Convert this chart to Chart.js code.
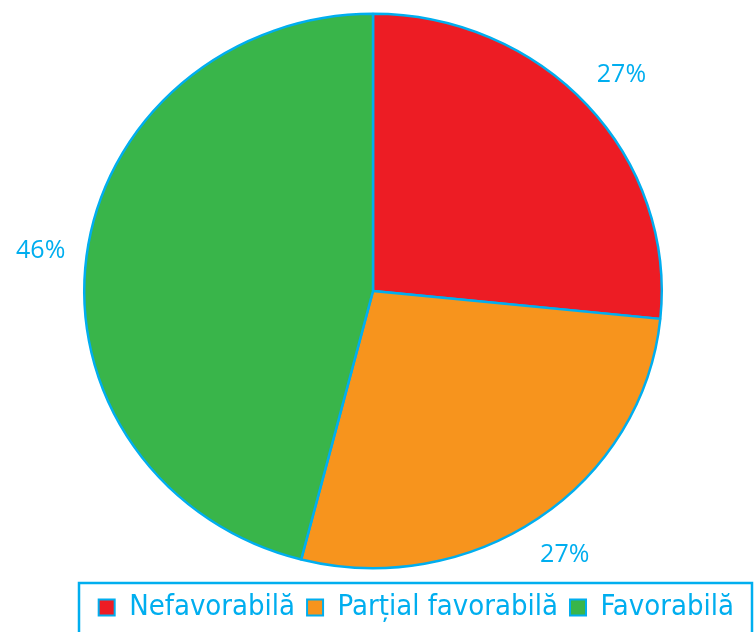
<!DOCTYPE html>
<html>
<head>
<meta charset="utf-8">
<script src="https://cdn.jsdelivr.net/npm/chart.js@4/dist/chart.umd.min.js"></script>
<style>
  html, body { margin: 0; padding: 0; background: #fff; }
  #wrap { width: 756px; height: 632px; position: relative; }
</style>
</head>
<body>
<div id="wrap"><canvas id="pie"></canvas></div>
<script>
/* ---------- date ---------- */
const categorii = ["Nefavorabilă", "Parțial favorabilă", "Favorabilă"];
const procente = [26.6, 27.4, 46.0];
const culori = ["#ED1C24", "#F7941D", "#39B54A"];
const albastru = "#00AEEF";

/* pie usor turtit pe verticala, ca in original */
const SCALA_Y = 0.96;
const turtire = {
  id: "turtire",
  beforeDatasetsDraw(ch) {
    const a = ch.getDatasetMeta(0).data[0];
    const g = ch.ctx;
    g.save();
    g.translate(a.x, a.y); g.scale(1, SCALA_Y); g.translate(-a.x, -a.y);
  },
  afterDatasetsDraw(ch) { ch.ctx.restore(); },
};

/* etichete procentuale in afara cercului */
const etichete = {
  id: "etichete",
  afterDraw(ch) {
    const g = ch.ctx;
    g.save();
    g.fillStyle = albastru;
    g.font = "25px 'Open Sans'";
    g.textAlign = "center"; g.textBaseline = "middle";
    ch.getDatasetMeta(0).data.forEach((a, i) => {
      const mid = (a.startAngle + a.endAngle) / 2;
      const r = a.outerRadius * 1.16;
      const x = a.x + Math.cos(mid) * r;
      const y = a.y + Math.sin(mid) * r * SCALA_Y;
      g.fillText(Math.round(procente[i]) + "%", x, y);
    });
    g.restore();
  },
};

/* chenarul legendei */
const chenar = {
  id: "chenar",
  afterDraw(ch) {
    const l = ch.legend;
    const g = ch.ctx;
    g.save();
    g.strokeStyle = albastru; g.lineWidth = 2.5;
    g.strokeRect(79, l.top + 2, 673, 80);
    g.restore();
  },
};

new Chart(document.getElementById("pie"), {
  type: "pie",
  data: {
    labels: categorii,
    datasets: [{
      data: procente,
      backgroundColor: culori,
      borderColor: albastru,
      borderWidth: 2.5,
    }],
  },
  options: {
    responsive: true, maintainAspectRatio: false, animation: false,
    layout: { padding: { top: 1, right: 10, left: 0, bottom: 0 } },
    plugins: {
      tooltip: { enabled: false },
      legend: {
        position: "bottom", align: "end",
        labels: {
          color: albastru, boxWidth: 16, boxHeight: 16, padding: 12,
          font: { family: "'DejaVu Sans Condensed', 'DejaVu Sans'", size: 29 },
          generateLabels: (ch) => categorii.map((c, i) => ({
            text: c, fillStyle: culori[i], strokeStyle: albastru, lineWidth: 2,
            fontColor: albastru, index: i, datasetIndex: 0, hidden: false,
          })),
        },
      },
    },
  },
  plugins: [turtire, etichete, chenar],
});
</script>
</body>
</html>
